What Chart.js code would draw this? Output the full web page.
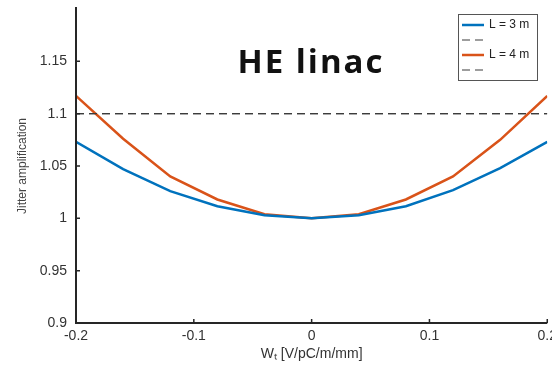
<!DOCTYPE html>
<html>
<head>
<meta charset="utf-8">
<script src="https://cdn.jsdelivr.net/npm/chart.js@4.4.1/dist/chart.umd.min.js"></script>
<style>
  html, body { margin: 0; padding: 0; background: #fff; overflow: hidden; }
  #wrap { width: 562px; height: 366px; position: relative; }
</style>
</head>
<body>
<div id="wrap"><canvas id="c"></canvas></div>
<script>
// Transverse wakefield strength W_t [V/pC/m/mm]
const wakeStrength = [-0.2, -0.16, -0.12, -0.08, -0.04, 0, 0.04, 0.08, 0.12, 0.16, 0.2];
// Jitter amplification for two structure lengths
const ampL3 = [1.073, 1.047, 1.026, 1.0115, 1.003, 1.0, 1.003, 1.0115, 1.027, 1.048, 1.073];
const ampL4 = [1.117, 1.076, 1.040, 1.018, 1.004, 1.0, 1.004, 1.018, 1.040, 1.075, 1.117];
// Tolerance level
const limitX = [-0.2, 0.2];
const limitY = [1.1, 1.1];
const yTicks = [0.9, 0.95, 1, 1.05, 1.1, 1.15];
const xTicks = [-0.2, -0.1, 0, 0.1, 0.2];
const seriesNames = ['L = 3 m', '', 'L = 4 m', ''];

const pts = (xs, ys) => xs.map((x, i) => ({ x, y: ys[i] }));

const BLUE = '#0072BD', RED = '#D95319', DASH = '#3c3c3c';
const FONT = '"Liberation Sans", Arial, sans-serif';

const axisFrame = {
  id: 'axisFrame',
  afterDatasetsDraw(chart) {
    const { ctx, chartArea: a, scales } = chart;
    ctx.save();
    ctx.strokeStyle = '#262626';
    ctx.lineWidth = 2;
    ctx.beginPath();
    ctx.moveTo(a.left, a.top - 2);
    ctx.lineTo(a.left, a.bottom);
    ctx.lineTo(a.right, a.bottom);
    ctx.stroke();
    ctx.lineWidth = 1.5;
    ctx.beginPath();
    yTicks.forEach(v => {
      const y = scales.y.getPixelForValue(v);
      ctx.moveTo(a.left, y); ctx.lineTo(a.left + 4, y);
    });
    xTicks.forEach(v => {
      const x = scales.x.getPixelForValue(v);
      ctx.moveTo(x, a.bottom); ctx.lineTo(x, a.bottom - 4);
    });
    ctx.stroke();
    ctx.restore();
  }
};

const boxLegend = {
  id: 'boxLegend',
  afterDraw(chart) {
    const { ctx } = chart;
    const left = 458, top = 14, w = 79, h = 66;
    ctx.save();
    ctx.fillStyle = '#fff';
    ctx.fillRect(left, top, w, h);
    ctx.strokeStyle = '#555';
    ctx.lineWidth = 1;
    ctx.strokeRect(left + 0.5, top + 0.5, w, h);
    ctx.font = '12px ' + FONT;
    ctx.textBaseline = 'middle';
    chart.data.datasets.forEach((ds, i) => {
      const y = top + 11 + i * 15;
      ctx.strokeStyle = ds.borderColor;
      ctx.lineWidth = ds.borderDash ? 1.2 : 2.5;
      ctx.setLineDash(ds.borderDash || []);
      ctx.beginPath();
      ctx.moveTo(left + 4, y); ctx.lineTo(left + 26, y);
      ctx.stroke();
      ctx.setLineDash([]);
      ctx.fillStyle = '#222';
      ctx.fillText(seriesNames[i], left + 31, y);
    });
    ctx.restore();
  }
};

const headline = {
  id: 'headline',
  afterDraw(chart) {
    const { ctx } = chart;
    ctx.save();
    ctx.font = 'bold 33px "Open Sans", sans-serif';
    ctx.letterSpacing = '2px';
    ctx.fillStyle = '#111';
    ctx.textAlign = 'center';
    ctx.textBaseline = 'middle';
    ctx.fillText('HE linac', 311, 64);
    ctx.restore();
  }
};

new Chart(document.getElementById('c'), {
  type: 'line',
  data: {
    datasets: [
      { label: seriesNames[0], data: pts(wakeStrength, ampL3), borderColor: BLUE, borderWidth: 2.5, pointRadius: 0, tension: 0 },
      { label: 'limit', data: pts(limitX, limitY), borderColor: DASH, borderWidth: 1.2, borderDash: [8, 5], pointRadius: 0 },
      { label: seriesNames[2], data: pts(wakeStrength, ampL4), borderColor: RED, borderWidth: 2.5, pointRadius: 0, tension: 0 },
      { label: 'limit', data: pts(limitX, limitY), borderColor: DASH, borderWidth: 1.2, borderDash: [8, 5], pointRadius: 0 }
    ]
  },
  options: {
    responsive: true,
    maintainAspectRatio: false,
    animation: false,
    layout: { padding: { top: 9, left: 0, right: 0, bottom: 0 } },
    plugins: { legend: { display: false }, tooltip: { enabled: false } },
    scales: {
      x: {
        type: 'linear', min: -0.2, max: 0.2,
        afterBuildTicks: s => { s.ticks = xTicks.map(v => ({ value: v })); },
        afterFit: s => { s.height = 43; },
        grid: { display: false, drawTicks: false },
        border: { display: false },
        ticks: { color: '#333', padding: 5, maxRotation: 0, callback: v => String(+v.toFixed(2)), font: { size: 14, family: FONT } },
        title: { display: true, text: 'Wₜ [V/pC/m/mm]', color: '#333', padding: { top: 0, bottom: 3 }, font: { size: 14, family: FONT } }
      },
      y: {
        min: 0.9, max: 1.2,
        afterBuildTicks: s => { s.ticks = yTicks.map(v => ({ value: v })); },
        afterFit: s => { s.width = 76; s.paddingTop = 0; s.paddingBottom = 0; },
        grid: { display: false, drawTicks: false },
        border: { display: false },
        ticks: { color: '#333', padding: 9, callback: v => String(+v.toFixed(2)), font: { size: 14, family: FONT } },
        title: { display: true, text: 'Jitter amplification', color: '#444', padding: { top: 15, bottom: 0 }, font: { size: 12, family: FONT } }
      }
    }
  },
  plugins: [axisFrame, boxLegend, headline]
});
</script>
</body>
</html>
